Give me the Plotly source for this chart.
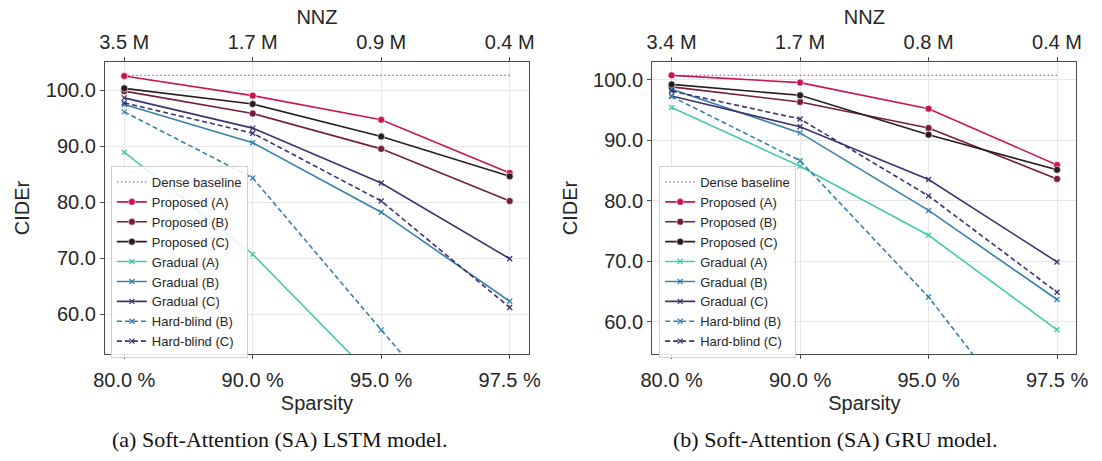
import plotly.graph_objects as go

# ---------------- data ----------------
sparsity = ["80.0 %", "90.0 %", "95.0 %", "97.5 %"]
nnz_lstm = ["3.5 M", "1.7 M", "0.9 M", "0.4 M"]
nnz_gru = ["3.4 M", "1.7 M", "0.8 M", "0.4 M"]
yticks = [60, 70, 80, 90, 100]

# LSTM (left)
lstm_dense = [102.6, 102.6, 102.6, 102.6]
lstm_prop_a = [102.5, 99.0, 94.7, 85.2]
lstm_prop_b = [99.8, 95.8, 89.5, 80.2]
lstm_prop_c = [100.3, 97.5, 91.7, 84.6]
lstm_grad_a = [88.9, 70.7, 47.3, 25.0]
lstm_grad_b = [97.4, 90.6, 78.2, 62.3]
lstm_grad_c = [98.6, 93.2, 83.4, 69.9]
lstm_hb_b = [96.1, 84.3, 57.2, 30.4]
lstm_hb_c = [97.7, 92.3, 80.2, 61.2]

# GRU (right)
gru_dense = [100.7, 100.7, 100.7, 100.7]
gru_prop_a = [100.7, 99.5, 95.2, 85.9]
gru_prop_b = [98.8, 96.3, 92.0, 83.6]
gru_prop_c = [99.2, 97.4, 90.9, 85.1]
gru_grad_a = [95.4, 85.7, 74.3, 58.7]
gru_grad_b = [98.4, 91.2, 78.4, 63.7]
gru_grad_c = [97.3, 92.2, 83.5, 69.9]
gru_hb_b = [97.2, 86.6, 64.1, 36.7]
gru_hb_c = [98.1, 93.5, 80.8, 64.9]

names = ["Dense baseline", "Proposed (A)", "Proposed (B)", "Proposed (C)",
         "Gradual (A)", "Gradual (B)", "Gradual (C)", "Hard-blind (B)", "Hard-blind (C)"]

# ---------------- styles ----------------
colors = {
    "Dense baseline": "#b45ad8",
    "Proposed (A)": "#c8164f",
    "Proposed (B)": "#731d3f",
    "Proposed (C)": "#2b1b23",
    "Gradual (A)": "#48c9a8",
    "Gradual (B)": "#3781ab",
    "Gradual (C)": "#3c3370",
    "Hard-blind (B)": "#3781ab",
    "Hard-blind (C)": "#3c3370",
}

FONT = "Liberation Sans, Arial, sans-serif"

fig = go.Figure()


def add_series(vals_list, xa, ya, legend):
    for name, vals in zip(names, vals_list):
        c = colors[name]
        if name == "Dense baseline":
            mode = "lines"
            marker = None
            dash = "1.5px,2.5px"
            width = 1.2
        elif name.startswith("Proposed"):
            mode = "lines+markers"
            marker = dict(symbol="circle", size=7, color=c, line=dict(color="white", width=0.6))
            dash = "solid"
            width = 1.6
        else:
            mode = "lines+markers"
            marker = dict(symbol="x-thin", size=5, color=c, line=dict(color=c, width=1.3))
            dash = "5px,3px" if name.startswith("Hard") else "solid"
            width = 1.6
        fig.add_trace(go.Scatter(
            x=sparsity, y=vals, name=name, mode=mode,
            line=dict(color=c, width=width, dash=dash),
            marker=marker, xaxis=xa, yaxis=ya, legend=legend,
        ))


add_series([lstm_dense, lstm_prop_a, lstm_prop_b, lstm_prop_c, lstm_grad_a,
            lstm_grad_b, lstm_grad_c, lstm_hb_b, lstm_hb_c], "x", "y", "legend")
add_series([gru_dense, gru_prop_a, gru_prop_b, gru_prop_c, gru_grad_a,
            gru_grad_b, gru_grad_c, gru_hb_b, gru_hb_c], "x2", "y2", "legend2")

W, H = 1102, 461
left_dom = [96 / W, 529 / W]
right_dom = [655 / W, 1088 / W]
y_dom = [1 - 354 / H, 1 - 62 / H]
xr = [-0.15, 3.15]

axis_common = dict(
    showline=True, linecolor="#4a4a4a", linewidth=1.3, mirror=True,
    showgrid=True, gridcolor="#e6e6e6", gridwidth=1,
    ticks="outside", ticklen=4, tickcolor="#4a4a4a", tickwidth=1,
    tickfont=dict(family=FONT, size=20, color="#262626"),
    zeroline=False,
)
top_common = {k: v for k, v in axis_common.items() if k not in ("showgrid", "mirror")}

fig.update_layout(
    width=W, height=H,
    margin=dict(l=0, r=0, t=0, b=0),
    paper_bgcolor="white", plot_bgcolor="white",
    font=dict(family=FONT, color="#262626"),
    xaxis=dict(domain=left_dom, anchor="y", type="category", range=xr,
               categoryorder="array", categoryarray=sparsity, ticklabelstandoff=4,
               title=dict(text="Sparsity", font=dict(family=FONT, size=20), standoff=5),
               **axis_common),
    yaxis=dict(domain=y_dom, anchor="x", range=[52.9, 105.0], tickvals=yticks,
               tickformat=".1f",
               title=dict(text="CIDEr", font=dict(family=FONT, size=20), standoff=10),
               **axis_common),
    xaxis3=dict(overlaying="x", side="top", anchor="y", range=xr,
                tickvals=[0, 1, 2, 3], ticktext=nnz_lstm,
                title=dict(text="NNZ", font=dict(family=FONT, size=20), standoff=0),
                showgrid=False, **top_common),
    xaxis2=dict(domain=right_dom, anchor="y2", type="category", range=xr,
                categoryorder="array", categoryarray=sparsity, ticklabelstandoff=4,
                title=dict(text="Sparsity", font=dict(family=FONT, size=20), standoff=5),
                **axis_common),
    yaxis2=dict(domain=y_dom, anchor="x2", range=[54.7, 102.9], tickvals=yticks,
                tickformat=".1f",
                title=dict(text="CIDEr", font=dict(family=FONT, size=20), standoff=10),
                **axis_common),
    xaxis4=dict(overlaying="x2", side="top", anchor="y2", range=xr,
                tickvals=[0, 1, 2, 3], ticktext=nnz_gru,
                title=dict(text="NNZ", font=dict(family=FONT, size=20), standoff=0),
                showgrid=False, **top_common),
    legend=dict(x=102 / W, y=1 - 166 / H, xanchor="left", yanchor="top",
                bgcolor="rgba(255,255,255,0.85)", bordercolor="#d0d0d0", borderwidth=1,
                font=dict(family=FONT, size=13, color="#262626"), itemwidth=30,
                tracegroupgap=0),
    legend2=dict(x=662 / W, y=1 - 166 / H, xanchor="left", yanchor="top",
                 bgcolor="rgba(255,255,255,0.85)", bordercolor="#d0d0d0", borderwidth=1,
                 font=dict(family=FONT, size=13, color="#262626"), itemwidth=30,
                 tracegroupgap=0),
)

# invisible helper traces so the top (NNZ) axes are drawn
for xa, ya in (("x3", "y"), ("x4", "y2")):
    fig.add_trace(go.Scatter(x=[0, 3], y=[None, None], xaxis=xa, yaxis=ya,
                             showlegend=False, hoverinfo="skip", mode="lines"))

captions = ["(a) Soft-Attention (SA) LSTM model.", "(b) Soft-Attention (SA) GRU model."]
for cx, txt in zip([274, 842], captions):
    fig.add_annotation(x=cx / W, y=1 - 439 / H, xref="paper", yref="paper",
                       text=txt, showarrow=False, xanchor="center", yanchor="middle",
                       font=dict(family="Liberation Serif, Times New Roman, serif", size=22,
                                 color="#111111"))

fig.write_html("out.html")
